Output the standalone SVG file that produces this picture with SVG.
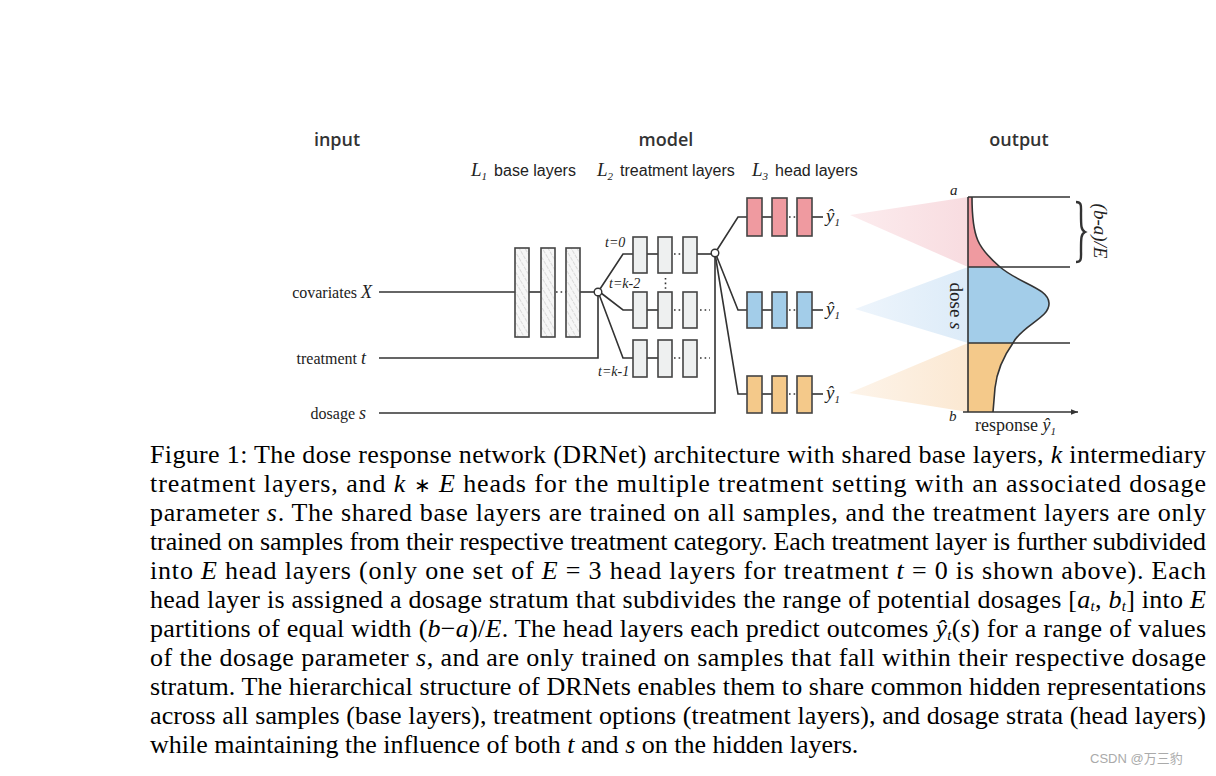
<svg xmlns="http://www.w3.org/2000/svg" width="1216" height="776" viewBox="0 0 1216 776">
<style>
.hdr{font-family:"Open Sans","Liberation Sans",sans-serif;font-weight:600;font-size:18px;fill:#333}
.sub{font-family:"Liberation Sans",Arial,sans-serif;font-size:16px;fill:#222}
.ser{font-family:"Liberation Serif","Times New Roman",serif;fill:#222}
.it{font-style:italic}
.cap{font-family:"Liberation Serif","Times New Roman",serif;font-size:26px;fill:#000}
.sb{font-style:italic;font-size:15px}
.ln{stroke:#333;stroke-width:1.6;fill:none}
.dot{stroke:#333;stroke-width:1.6;fill:none;stroke-dasharray:1.6 3}
.base{fill:url(#hatch);stroke:#444;stroke-width:1.6}
.trt{fill:#eef0f0;stroke:#444;stroke-width:1.6}
.red{fill:#ef9aa0;stroke:#444;stroke-width:1.6}
.blu{fill:#a3cde9;stroke:#444;stroke-width:1.6}
.org{fill:#f4c98a;stroke:#444;stroke-width:1.6}
.jn{fill:#fff;stroke:#333;stroke-width:1.4}
</style>
<defs>
<pattern id="hatch" width="5" height="5" patternUnits="userSpaceOnUse" patternTransform="rotate(-30)">
<rect width="5" height="5" fill="#f6f6f6"/>
<line x1="0" y1="0" x2="0" y2="5" stroke="#b5b5b5" stroke-width="0.9" stroke-dasharray="2 1"/>
</pattern>
<linearGradient id="gr" x1="0" y1="0" x2="1" y2="0"><stop offset="0" stop-color="#fcecee"/><stop offset="1" stop-color="#f8dce0"/></linearGradient>
<linearGradient id="gb" x1="0" y1="0" x2="1" y2="0"><stop offset="0" stop-color="#eef5fc"/><stop offset="1" stop-color="#dcebf8"/></linearGradient>
<linearGradient id="go" x1="0" y1="0" x2="1" y2="0"><stop offset="0" stop-color="#fdf4ea"/><stop offset="1" stop-color="#fbe8d2"/></linearGradient>
<marker id="arr" viewBox="0 0 10 10" refX="10" refY="5" markerWidth="7" markerHeight="7" orient="auto" markerUnits="userSpaceOnUse"><path d="M0,1 L10,5 L0,9 Z" fill="#333"/></marker>
</defs>
<rect width="1216" height="776" fill="#fff"/>

<!-- headers -->
<g id="headers">
<text class="hdr" x="337" y="146" text-anchor="middle">input</text>
<text class="hdr" x="666" y="146" text-anchor="middle">model</text>
<text class="hdr" x="1019" y="146" text-anchor="middle">output</text>
<text x="471" y="176"><tspan class="ser it" font-size="19">L</tspan><tspan class="ser it" font-size="11" baseline-shift="-4">1</tspan><tspan class="sub" dx="7">base layers</tspan></text>
<text x="597" y="176"><tspan class="ser it" font-size="19">L</tspan><tspan class="ser it" font-size="11" baseline-shift="-4">2</tspan><tspan class="sub" dx="7">treatment layers</tspan></text>
<text x="752" y="176"><tspan class="ser it" font-size="19">L</tspan><tspan class="ser it" font-size="11" baseline-shift="-4">3</tspan><tspan class="sub" dx="7">head layers</tspan></text>
</g>

<!-- fans -->
<g id="fans">
<polygon points="850,215 968,197 968,267" fill="url(#gr)"/>
<polygon points="855,309 968,267 968,343" fill="url(#gb)"/>
<polygon points="849,393 968,343 968,412" fill="url(#go)"/>
</g>

<!-- connectors -->
<g id="connectors">
<line class="ln" x1="379" y1="292" x2="515" y2="292"/>
<line class="ln" x1="529" y1="292" x2="541" y2="292"/>
<line class="dot" x1="556" y1="292" x2="566" y2="292"/>
<line class="ln" x1="580" y1="292" x2="594.5" y2="292"/>
<polyline class="ln" points="379,358 598,358 598,295.5"/>
<polyline class="ln" points="379,413 715,413 715,256.5"/>
<polyline class="ln" points="600,289 623,254 633,254"/>
<polyline class="ln" points="601,293 623,310 633,310"/>
<polyline class="ln" points="599.5,295.5 623,358 633,358"/>
<line class="ln" x1="647" y1="254" x2="658" y2="254"/>
<line class="dot" x1="674" y1="254" x2="683" y2="254"/>
<line class="ln" x1="697" y1="254" x2="711.5" y2="254"/>
<line class="ln" x1="647" y1="310" x2="658" y2="310"/>
<line class="dot" x1="674" y1="310" x2="683" y2="310"/>
<line class="dot" x1="700" y1="310" x2="710" y2="310"/>
<line class="ln" x1="647" y1="358" x2="658" y2="358"/>
<line class="dot" x1="674" y1="358" x2="683" y2="358"/>
<line class="dot" x1="700" y1="358" x2="710" y2="358"/>
<line class="dot" x1="665.5" y1="278" x2="665.5" y2="289"/>
<polyline class="ln" points="717,250 738,217 747,217"/>
<polyline class="ln" points="716.5,256 738,310 747,310"/>
<polyline class="ln" points="715.5,256.5 738,394 747,394"/>
<line class="ln" x1="762" y1="217" x2="772" y2="217"/>
<line class="dot" x1="789" y1="217" x2="797" y2="217"/>
<line class="ln" x1="812" y1="217" x2="823" y2="217"/>
<line class="ln" x1="762" y1="310" x2="772" y2="310"/>
<line class="dot" x1="789" y1="310" x2="797" y2="310"/>
<line class="ln" x1="812" y1="310" x2="823" y2="310"/>
<line class="ln" x1="762" y1="394" x2="772" y2="394"/>
<line class="dot" x1="789" y1="394" x2="797" y2="394"/>
<line class="ln" x1="812" y1="394" x2="823" y2="394"/>
</g>

<!-- inputs -->
<g id="inputs">
<text class="ser" x="372" y="298" text-anchor="end" font-size="16">covariates <tspan class="it" font-size="18">X</tspan></text>
<text class="ser" x="366" y="364" text-anchor="end" font-size="16">treatment <tspan class="it" font-size="18">t</tspan></text>
<text class="ser" x="366" y="419" text-anchor="end" font-size="16">dosage <tspan class="it" font-size="18">s</tspan></text>
</g>

<!-- base layers -->
<g id="base-layers">
<rect class="base" x="515" y="248" width="14" height="89"/>
<rect class="base" x="541" y="248" width="14" height="89"/>
<rect class="base" x="566" y="248" width="14" height="89"/>
</g>
<g id="junction-base"><circle class="jn" cx="598" cy="292" r="3.8"/></g>

<!-- treatment layers -->
<g id="treatment-layers">
<rect class="trt" x="633" y="237" width="14" height="36"/>
<rect class="trt" x="658" y="237" width="14" height="36"/>
<rect class="trt" x="683" y="237" width="14" height="36"/>
<rect class="trt" x="633" y="292" width="14" height="36"/>
<rect class="trt" x="658" y="292" width="14" height="36"/>
<rect class="trt" x="683" y="292" width="14" height="36"/>
<rect class="trt" x="633" y="340" width="14" height="37"/>
<rect class="trt" x="658" y="340" width="14" height="37"/>
<rect class="trt" x="683" y="340" width="14" height="37"/>
<text class="ser it" x="605" y="247" font-size="14">t=0</text>
<text class="ser it" x="609" y="288" font-size="14">t=k-2</text>
<text class="ser it" x="598" y="376" font-size="14">t=k-1</text>
</g>
<g id="junction-head"><circle class="jn" cx="715" cy="253" r="3.8"/></g>

<!-- head layers -->
<g id="head-red">
<rect class="red" x="747" y="198" width="15" height="38"/>
<rect class="red" x="772" y="198" width="15" height="38"/>
<rect class="red" x="797" y="198" width="15" height="38"/>
<text class="ser it" x="826" y="222" font-size="19">ŷ<tspan font-size="11" baseline-shift="-4">1</tspan></text>
</g>
<g id="head-blue">
<rect class="blu" x="747" y="292" width="15" height="36"/>
<rect class="blu" x="772" y="292" width="15" height="36"/>
<rect class="blu" x="797" y="292" width="15" height="36"/>
<text class="ser it" x="826" y="315" font-size="19">ŷ<tspan font-size="11" baseline-shift="-4">1</tspan></text>
</g>
<g id="head-orange">
<rect class="org" x="747" y="376" width="15" height="37"/>
<rect class="org" x="772" y="376" width="15" height="37"/>
<rect class="org" x="797" y="376" width="15" height="37"/>
<text class="ser it" x="826" y="399" font-size="19">ŷ<tspan font-size="11" baseline-shift="-4">1</tspan></text>
</g>

<!-- output plot -->
<g id="output-plot">
<path d="M968,197 L972,197 C972,238 978,248 1000,267 L968,267 Z" fill="#ef9aa0" stroke="none"/>
<path d="M968,267 L1000,267 C1020,284 1048,288 1049,303 C1050,318 1022,325 1013,343 L968,343 Z" fill="#a3cde9" stroke="none"/>
<path d="M968,343 L1013,343 C1003,357 997,370 995,388 L993,412 L968,412 Z" fill="#f4c98a" stroke="none"/>
<path class="ln" stroke-width="1.3" d="M972,197 C972,238 978,248 1000,267 C1020,284 1048,288 1049,303 C1050,318 1022,325 1013,343 C1003,357 997,370 995,388 L993,412"/>
<line class="ln" x1="968" y1="197" x2="1070" y2="197"/>
<line class="ln" x1="968" y1="267" x2="1070" y2="267"/>
<line class="ln" x1="968" y1="343" x2="1070" y2="343"/>
<line class="ln" x1="968" y1="197" x2="968" y2="412"/>
<line class="ln" x1="963" y1="412" x2="1078" y2="412" marker-end="url(#arr)"/>
<path d="M1076,202 C1082,202 1081,206 1081,214 C1081,226 1081,230 1085,232 C1081,234 1081,238 1081,250 C1081,258 1082,262 1076,262" fill="none" stroke="#333" stroke-width="2.4"/>
<text class="ser it" font-size="19" transform="translate(1094,231) rotate(90)" text-anchor="middle">(b-a)/E</text>
<text class="ser" font-size="19" transform="translate(950,306) rotate(90)" text-anchor="middle">dose <tspan class="it">s</tspan></text>
<text class="ser it" x="950" y="195" font-size="15">a</text>
<text class="ser it" x="949" y="421" font-size="15">b</text>
<text class="ser" x="975" y="431" font-size="18">response <tspan class="it">ŷ</tspan><tspan class="it" font-size="11" baseline-shift="-4">1</tspan></text>
</g>

<!-- caption -->
<g id="caption" class="cap">
<text x="150" y="463" textLength="1056" lengthAdjust="spacing">Figure 1: The dose response network (DRNet) architecture with shared base layers, <tspan class="it">k</tspan> intermediary</text>
<text x="150" y="492" textLength="1056" lengthAdjust="spacing">treatment layers, and <tspan class="it">k</tspan> <tspan font-size="20">∗</tspan> <tspan class="it">E</tspan> heads for the multiple treatment setting with an associated dosage</text>
<text x="150" y="521" textLength="1056" lengthAdjust="spacing">parameter <tspan class="it">s</tspan>. The shared base layers are trained on all samples, and the treatment layers are only</text>
<text x="150" y="550" textLength="1056" lengthAdjust="spacing">trained on samples from their respective treatment category. Each treatment layer is further subdivided</text>
<text x="150" y="579" textLength="1056" lengthAdjust="spacing">into <tspan class="it">E</tspan> head layers (only one set of <tspan class="it">E</tspan> = 3 head layers for treatment <tspan class="it">t</tspan> = 0 is shown above). Each</text>
<text x="150" y="608" textLength="1056" lengthAdjust="spacing">head layer is assigned a dosage stratum that subdivides the range of potential dosages [<tspan class="it">a</tspan><tspan class="sb" baseline-shift="-3">t</tspan>, <tspan class="it">b</tspan><tspan class="sb" baseline-shift="-3">t</tspan>] into <tspan class="it">E</tspan></text>
<text x="150" y="637" textLength="1056" lengthAdjust="spacing">partitions of equal width (<tspan class="it">b</tspan>−<tspan class="it">a</tspan>)/<tspan class="it">E</tspan>. The head layers each predict outcomes <tspan class="it">ŷ</tspan><tspan class="sb" baseline-shift="-3">t</tspan>(<tspan class="it">s</tspan>) for a range of values</text>
<text x="150" y="666" textLength="1056" lengthAdjust="spacing">of the dosage parameter <tspan class="it">s</tspan>, and are only trained on samples that fall within their respective dosage</text>
<text x="150" y="695" textLength="1056" lengthAdjust="spacing">stratum. The hierarchical structure of DRNets enables them to share common hidden representations</text>
<text x="150" y="724" textLength="1056" lengthAdjust="spacing">across all samples (base layers), treatment options (treatment layers), and dosage strata (head layers)</text>
<text x="150" y="753">while maintaining the influence of both <tspan class="it">t</tspan> and <tspan class="it">s</tspan> on the hidden layers.</text>
</g>

<g id="watermark">
<text x="1090" y="763" font-family="'Liberation Sans','Noto Sans CJK SC',sans-serif" font-size="13" fill="#aaa">CSDN @万三豹</text>
</g>
</svg>
